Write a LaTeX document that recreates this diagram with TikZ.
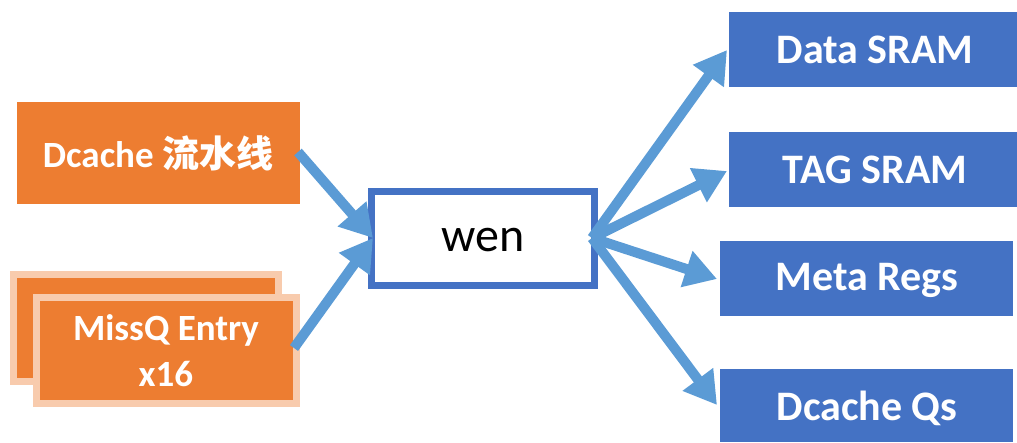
\documentclass[tikz,border=0pt]{standalone}
\usepackage{fontspec}
\setmainfont{Carlito}
\newfontfamily\cjk{Noto Sans CJK SC}
\usetikzlibrary{arrows.meta}
\definecolor{boxorange}{HTML}{ED7D31}
\definecolor{paleorange}{HTML}{F8CBAD}
\definecolor{boxblue}{HTML}{4472C4}
\definecolor{arrowblue}{HTML}{5B9BD5}
\tikzset{
  stackbox/.style={fill=boxorange, draw=paleorange, line width=7pt},
  dstlabel/.style={text=white, font=\bfseries\fontsize{42}{48}\selectfont},
  hubbox/.style={fill=white, draw=boxblue, line width=7pt},
  flow/.style={draw=arrowblue, line width=10pt, -{Triangle[length=32pt,width=36pt]}},
}
\begin{document}
\begin{tikzpicture}[x=1pt, y=-1pt]
\useasboundingbox (0,0) rectangle (1017,442);

% pipeline source
\fill[boxorange] (17,102) rectangle (300,204);
\node[text=white, font=\bfseries\fontsize{37}{42}\selectfont] (pipe) at (158,153) {Dcache {\cjk 流水线}};
\coordinate (pipeR) at (298,152);

% stacked MissQ entries
\draw[stackbox] (13.5,274.5) rectangle (278.5,381.5);
\draw[stackbox] (36.5,297.5) rectangle (296.5,403.5);
\node[text=white, font=\bfseries\fontsize{37}{46}\selectfont, align=center] (missq) at (166,351) {MissQ Entry\\x16};
\coordinate (missqR) at (294,348);

% write-enable hub
\draw[hubbox] (371.5,191.5) rectangle (594.5,285.5);
\node[font=\fontsize{48}{54}\selectfont] (wen) at (483,240) {wen};
\coordinate (wenL) at (373,238);
\coordinate (wenR) at (592,238);

% destinations
\fill[boxblue] (729,12) rectangle (1017,87);
\node[dstlabel] (data) at (875,50) {Data SRAM};
\fill[boxblue] (729,132) rectangle (1017,207);
\node[dstlabel] (tag) at (875,170) {TAG SRAM};
\fill[boxblue] (720,241) rectangle (1013,316);
\node[dstlabel] (meta) at (867,280) {Meta Regs};
\fill[boxblue] (720,369) rectangle (1013,442);
\node[dstlabel] (dq) at (867,408) {Dcache Qs};

\coordinate (dataL) at (727,50);
\coordinate (tagL) at (727,171);
\coordinate (metaL) at (717,279);
\coordinate (dqL) at (717,405);

% connectors
\draw[flow] (pipeR) -- (wenL);
\draw[flow] (missqR) -- (wenL);
\draw[flow] (wenR) -- (dataL);
\draw[flow] (wenR) -- (tagL);
\draw[flow] (wenR) -- (metaL);
\draw[flow] (wenR) -- (dqL);
\end{tikzpicture}
\end{document}
